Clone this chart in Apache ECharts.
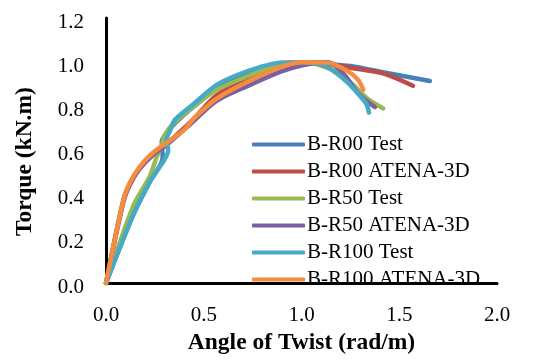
<!DOCTYPE html>
<html>
<head>
<meta charset="utf-8">
<script src="https://cdn.jsdelivr.net/npm/echarts@6/dist/echarts.min.js"></script>
<style>
html,body{margin:0;padding:0;background:#fff;}
#chart{width:546px;height:360px;}
</style>
</head>
<body>
<div id="chart"></div>
<script>
const seriesNames = ["B-R00 Test","B-R00 ATENA-3D","B-R50 Test","B-R50 ATENA-3D","B-R100 Test","B-R100 ATENA-3D"];
const seriesColors = ["#4A7EBB","#BE4B48","#98B954","#7D60A0","#46AAC5","#F68C3E"];
const xTicks = [0, 0.5, 1.0, 1.5, 2.0];
const yTicks = [0, 0.2, 0.4, 0.6, 0.8, 1.0, 1.2];

const bR00Test = [[0,0],[0.14,0.31],[0.225,0.46],[0.29,0.57],[0.285,0.64],[0.32,0.69],[0.36,0.73],[0.45,0.80],[0.566,0.88],[0.737,0.95],[0.89,0.99],[1.0,1.0],[1.1,0.995],[1.18,0.988],[1.25,0.983],[1.45,0.949],[1.657,0.915]];
const bR00Atena = [[0,0],[0.09,0.38],[0.125,0.455],[0.175,0.525],[0.24,0.585],[0.31,0.63],[0.45,0.745],[0.566,0.85],[0.737,0.93],[0.89,0.985],[1.0,1.0],[1.1,1.0],[1.18,0.985],[1.25,0.975],[1.42,0.948],[1.57,0.893]];
const bR50Test = [[0,0],[0.14,0.35],[0.225,0.485],[0.26,0.573],[0.285,0.62],[0.30,0.67],[0.353,0.73],[0.45,0.80],[0.566,0.875],[0.737,0.941],[0.89,0.99],[1.01,1.0],[1.1,0.985],[1.18,0.956],[1.265,0.897],[1.333,0.838],[1.418,0.791]];
const bR50Atena = [[0,0],[0.09,0.37],[0.125,0.45],[0.175,0.52],[0.24,0.58],[0.31,0.625],[0.45,0.735],[0.566,0.825],[0.737,0.897],[0.89,0.956],[1.0,0.985],[1.137,1.0],[1.214,0.949],[1.282,0.868],[1.333,0.824],[1.376,0.797]];
const bR100Test = [[0,0],[0.14,0.31],[0.225,0.46],[0.30,0.56],[0.318,0.60],[0.31,0.65],[0.33,0.695],[0.353,0.74],[0.447,0.81],[0.566,0.897],[0.668,0.941],[0.788,0.978],[0.89,0.998],[1.01,1.0],[1.129,0.978],[1.231,0.912],[1.3,0.846],[1.333,0.809],[1.345,0.772]];
const bR100Atena = [[0,0],[0.09,0.38],[0.125,0.46],[0.175,0.53],[0.24,0.59],[0.31,0.635],[0.395,0.69],[0.455,0.75],[0.566,0.835],[0.737,0.917],[0.89,0.978],[1.01,1.0],[1.13,0.998],[1.23,0.963],[1.29,0.92],[1.316,0.875]];

const allData = [bR00Test, bR00Atena, bR50Test, bR50Atena, bR100Test, bR100Atena];

const chart = echarts.init(document.getElementById('chart'), null, {renderer:'canvas'});
const font = '"Liberation Serif", "Times New Roman", serif';
chart.setOption({
  animation: false,
  backgroundColor: '#fff',
  grid: {left: 106, right: 49, top: 18, bottom: 70},
  xAxis: {
    type: 'value', min: xTicks[0], max: xTicks[xTicks.length-1], interval: 0.5,
    name: 'Angle of Twist (rad/m)', nameLocation: 'middle', nameGap: 39,
    nameTextStyle: {fontFamily: font, fontSize: 23.5, fontWeight: 'bold', color: '#000'},
    axisLine: {lineStyle: {color: '#000', width: 3}},
    axisTick: {show: false},
    splitLine: {show: false},
    axisLabel: {fontFamily: font, fontSize: 21, color: '#000', margin: 22, formatter: v => v.toFixed(1)}
  },
  yAxis: {
    type: 'value', min: yTicks[0], max: yTicks[yTicks.length-1], interval: 0.2,
    name: 'Torque (kN.m)', nameLocation: 'middle', nameGap: 69,
    nameTextStyle: {fontFamily: font, fontSize: 23.5, fontWeight: 'bold', color: '#000', padding: [0, 22, 0, 0]},
    axisLine: {lineStyle: {color: '#000', width: 3}},
    axisTick: {show: false},
    splitLine: {show: false},
    axisLabel: {fontFamily: font, fontSize: 21, color: '#000', margin: 22, verticalAlign: 'top', lineHeight: 8, formatter: v => v.toFixed(1)}
  },
  legend: {
    orient: 'vertical', left: 247, top: 129,
    itemWidth: 53, itemHeight: 4, itemGap: 6,
    icon: 'roundRect',
    textStyle: {fontFamily: font, fontSize: 21, lineHeight: 20, color: '#000', padding: [0,0,0,-3]},
    data: seriesNames
  },
  series: seriesNames.map((n, i) => ({
    name: n, type: 'line', data: allData[i], smooth: 0.3,
    symbol: 'none', showSymbol: false,
    color: seriesColors[i],
    lineStyle: {width: 4.5, color: seriesColors[i], cap: 'round', join: 'round'}
  }))
});
</script>
</body>
</html>
